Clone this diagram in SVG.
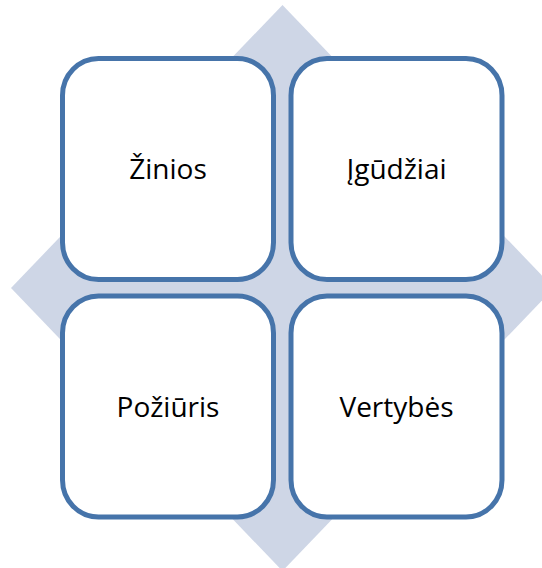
<svg xmlns="http://www.w3.org/2000/svg" width="542" height="568" viewBox="0 0 542 568">
<style>
.box{fill:#ffffff;stroke:#4674AA;stroke-width:5}
.lbl{font-family:"Open Sans","Liberation Sans",sans-serif;font-size:28px;fill:#000000;text-anchor:middle}
</style>
<rect width="542" height="568" fill="#ffffff"/>
<g id="diamond">
<polygon points="282.5,5 554,288 282.5,571 11,288" fill="#CED6E6"/>
</g>
<g id="connectors"></g>
<g id="node-zinios">
<rect class="box" x="62.5" y="58.5" width="211" height="221" rx="36" ry="37"/>
<text class="lbl" x="168" y="179">Žinios</text>
</g>
<g id="node-igudziai">
<rect class="box" x="291" y="58.5" width="211" height="221" rx="36" ry="37"/>
<text class="lbl" x="396.5" y="179">Įgūdžiai</text>
</g>
<g id="node-poziuris">
<rect class="box" x="62.5" y="296" width="211" height="221" rx="36" ry="37"/>
<text class="lbl" x="168" y="417">Požiūris</text>
</g>
<g id="node-vertybes">
<rect class="box" x="291" y="296" width="211" height="221" rx="36" ry="37"/>
<text class="lbl" x="396.5" y="417">Vertybės</text>
</g>
</svg>
